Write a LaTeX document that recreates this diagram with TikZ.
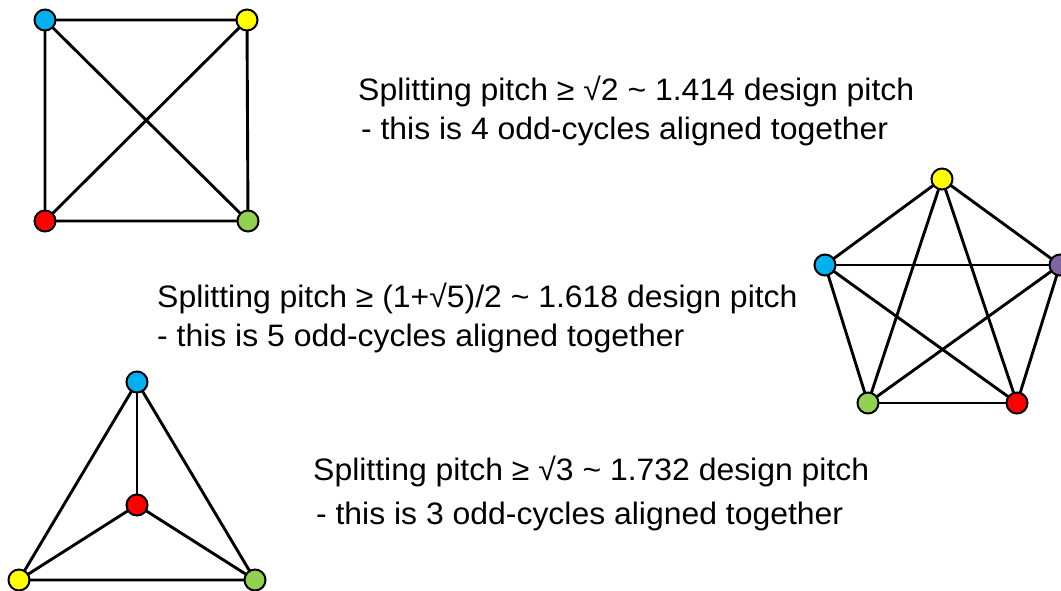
\documentclass[tikz,border=0pt]{standalone}
\usepackage{fontspec}
\setmainfont{Liberation Sans}
\definecolor{cblue}{RGB}{0,176,240}
\definecolor{cyellow}{RGB}{255,255,0}
\definecolor{cred}{RGB}{255,0,0}
\definecolor{cgreen}{RGB}{146,208,80}
\definecolor{cpurple}{RGB}{128,100,162}
\tikzset{
  vtx/.style={circle, draw=black, line width=2pt, minimum size=21pt, inner sep=0pt},
  edge/.style={draw=black, line width=2.9pt},
  lbl/.style={anchor=base west, inner sep=0pt, font=\fontsize{31}{36}\selectfont, xscale=1.03}
}
\begin{document}
\begin{tikzpicture}[x=1pt,y=-1pt]
\useasboundingbox (0,0) rectangle (1061,590);
\clip (0,0) rectangle (1061,590);
% square K4
\coordinate (sb) at (45,20);
\coordinate (sy) at (247,20);
\coordinate (sr) at (45,221);
\coordinate (sg) at (248,221);
\draw[edge] (sb) -- (sy) -- (sg) -- (sr) -- cycle;
\draw[edge] (sb) -- (sg);
\draw[edge] (sy) -- (sr);
\node[vtx, fill=cblue] (nsb) at (sb) {};
\node[vtx, fill=cyellow] (nsy) at (sy) {};
\node[vtx, fill=cred] (nsr) at (sr) {};
\node[vtx, fill=cgreen] (nsg) at (sg) {};
% pentagon K5
\coordinate (py) at (942,179);
\coordinate (pb) at (825,265);
\coordinate (pp) at (1060,265);
\coordinate (pg) at (868,403);
\coordinate (pr) at (1017,403);
\draw[edge] (py) -- (pb);
\draw[edge] (py) -- (pp);
\draw[edge] (py) -- (pg);
\draw[edge] (py) -- (pr);
\draw[edge] (pb) -- (pp);
\draw[edge] (pb) -- (pg);
\draw[edge] (pb) -- (pr);
\draw[edge] (pp) -- (pg);
\draw[edge] (pp) -- (pr);
\draw[edge] (pg) -- (pr);
\node[vtx, fill=cyellow] (npy) at (py) {};
\node[vtx, fill=cblue] (npb) at (pb) {};
\node[vtx, fill=cpurple] (npp) at (pp) {};
\node[vtx, fill=cgreen] (npg) at (pg) {};
\node[vtx, fill=cred] (npr) at (pr) {};
% triangle K4
\coordinate (tb) at (137,382);
\coordinate (tr) at (137,505);
\coordinate (ty) at (19,580);
\coordinate (tg) at (255,580);
\draw[edge] (tb) -- (ty) -- (tg) -- cycle;
\draw[edge] (tr) -- (tb);
\draw[edge] (tr) -- (ty);
\draw[edge] (tr) -- (tg);
\node[vtx, fill=cblue] (ntb) at (tb) {};
\node[vtx, fill=cred] (ntr) at (tr) {};
\node[vtx, fill=cyellow] (nty) at (ty) {};
\node[vtx, fill=cgreen] (ntg) at (tg) {};
% texts
\node[lbl] (t1a) at (358,100) {Splitting pitch ≥ √2 \textasciitilde{} 1.414 design pitch};
\node[lbl] (t1b) at (352,139) {\ - this is 4 odd-cycles aligned together};
\node[lbl] (t2a) at (157,307) {Splitting pitch ≥ (1+√5)/2 \textasciitilde{} 1.618 design pitch};
\node[lbl] (t2b) at (157,346) {- this is 5 odd-cycles aligned together};
\node[lbl] (t3a) at (313,480) {Splitting pitch ≥ √3 \textasciitilde{} 1.732 design pitch};
\node[lbl] (t3b) at (307,524) {\ - this is 3 odd-cycles aligned together};
\end{tikzpicture}
\end{document}
